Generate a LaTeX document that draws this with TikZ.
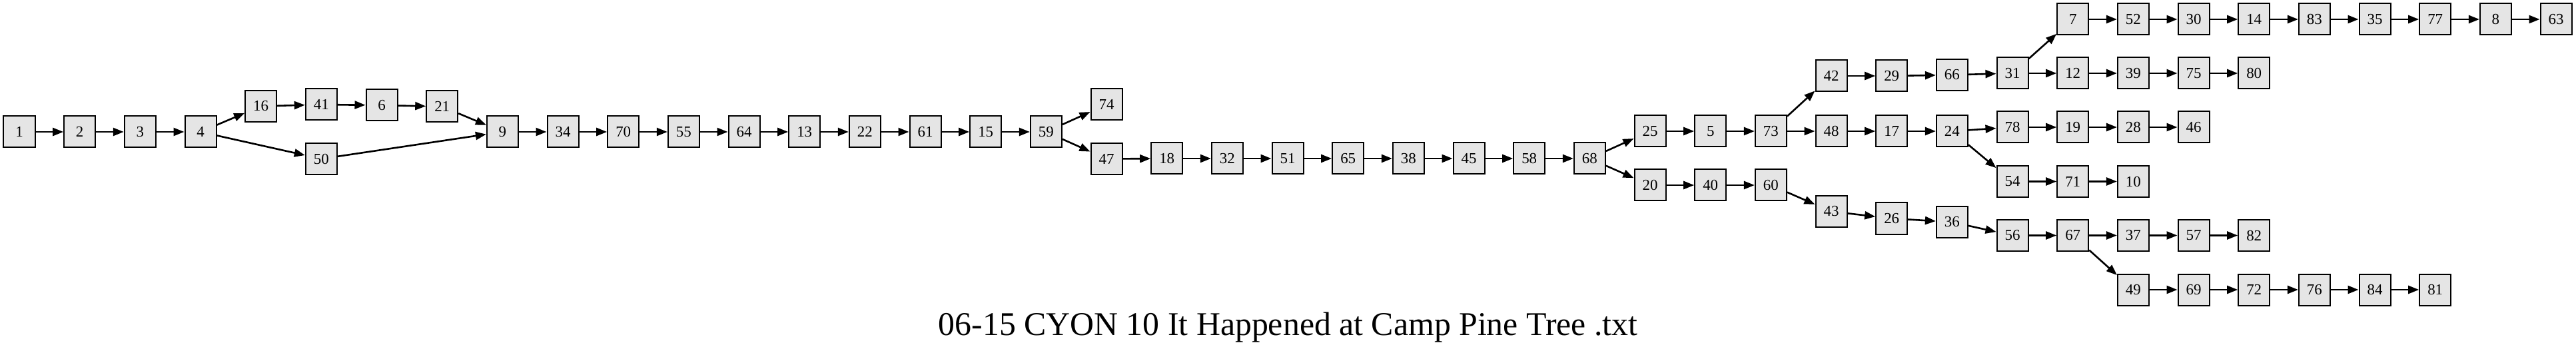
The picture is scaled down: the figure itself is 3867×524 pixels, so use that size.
\documentclass[tikz,border=0pt]{standalone}
\usepackage{fontspec}
\setmainfont{Liberation Serif}
\usetikzlibrary{arrows.meta}

\tikzset{
  state/.style={draw=black, line width=2bp, fill=black!10, minimum size=47bp,
    inner sep=0pt, font=\fontsize{23}{23}\selectfont},
  edge/.style={line width=2.6bp, -{Triangle[length=16bp,width=12bp]}}
}

\begin{document}
\begin{tikzpicture}[x=1bp,y=-1bp]
    \useasboundingbox (0,0) rectangle (3867,524);
    % Nodes %
    \node[state] (n1) at (29,198) {1};
    \node[state] (n2) at (119.7,198) {2};
    \node[state] (n3) at (210.3,198) {3};
    \node[state] (n4) at (301,198) {4};
    \node[state] (n16) at (391.7,159.5) {16};
    \node[state] (n41) at (482.3,157) {41};
    \node[state] (n6) at (573,158) {6};
    \node[state] (n21) at (663.7,160) {21};
    \node[state] (n50) at (482.3,238.5) {50};
    \node[state] (n9) at (754.4,198) {9};
    \node[state] (n34) at (845,198) {34};
    \node[state] (n70) at (935.7,198) {70};
    \node[state] (n55) at (1026.4,198) {55};
    \node[state] (n64) at (1117,198) {64};
    \node[state] (n13) at (1207.7,198) {13};
    \node[state] (n22) at (1298.4,198) {22};
    \node[state] (n61) at (1389,198) {61};
    \node[state] (n15) at (1479.7,198) {15};
    \node[state] (n59) at (1570.4,198) {59};
    \node[state] (n74) at (1661,157) {74};
    \node[state] (n47) at (1661,238.5) {47};
    \node[state] (n18) at (1751.7,238) {18};
    \node[state] (n32) at (1842.4,238) {32};
    \node[state] (n51) at (1933,238) {51};
    \node[state] (n65) at (2023.7,238) {65};
    \node[state] (n38) at (2114.4,238) {38};
    \node[state] (n45) at (2205,238) {45};
    \node[state] (n58) at (2295.7,238) {58};
    \node[state] (n68) at (2386.4,238) {68};
    \node[state] (n25) at (2477,197) {25};
    \node[state] (n5) at (2567.7,197) {5};
    \node[state] (n73) at (2658.4,197) {73};
    \node[state] (n48) at (2749,197) {48};
    \node[state] (n17) at (2839.7,197) {17};
    \node[state] (n24) at (2930.4,197) {24};
    \node[state] (n42) at (2749,114) {42};
    \node[state] (n29) at (2839.7,114) {29};
    \node[state] (n66) at (2930.4,112.5) {66};
    \node[state] (n31) at (3021,110) {31};
    \node[state] (n7) at (3111.7,29) {7};
    \node[state] (n52) at (3202.4,29) {52};
    \node[state] (n30) at (3293,29) {30};
    \node[state] (n14) at (3383.7,29) {14};
    \node[state] (n83) at (3474.4,29) {83};
    \node[state] (n35) at (3565,29) {35};
    \node[state] (n77) at (3655.7,29) {77};
    \node[state] (n8) at (3746.4,29) {8};
    \node[state] (n63) at (3837,29) {63};
    \node[state] (n12) at (3111.7,110) {12};
    \node[state] (n39) at (3202.4,110) {39};
    \node[state] (n75) at (3293,110) {75};
    \node[state] (n80) at (3383.7,110) {80};
    \node[state] (n78) at (3021,191) {78};
    \node[state] (n19) at (3111.7,191) {19};
    \node[state] (n28) at (3202.4,191) {28};
    \node[state] (n46) at (3293,191) {46};
    \node[state] (n54) at (3021,272.5) {54};
    \node[state] (n71) at (3111.7,272.5) {71};
    \node[state] (n10) at (3202.4,272.5) {10};
    \node[state] (n20) at (2477,278) {20};
    \node[state] (n40) at (2567.7,278) {40};
    \node[state] (n60) at (2658.4,278) {60};
    \node[state] (n43) at (2749,317.5) {43};
    \node[state] (n26) at (2839.7,328) {26};
    \node[state] (n36) at (2930.4,333.5) {36};
    \node[state] (n56) at (3021,353.5) {56};
    \node[state] (n67) at (3111.7,353.5) {67};
    \node[state] (n37) at (3202.4,353.5) {37};
    \node[state] (n57) at (3293,353.5) {57};
    \node[state] (n82) at (3383.7,353.5) {82};
    \node[state] (n49) at (3202.4,435) {49};
    \node[state] (n69) at (3293,435) {69};
    \node[state] (n72) at (3383.7,435) {72};
    \node[state] (n76) at (3474.4,435) {76};
    \node[state] (n84) at (3565,435) {84};
    \node[state] (n81) at (3655.7,435) {81};

    % Edges %
    \path[edge] (n1) edge (n2) (n2) edge (n3) (n3) edge (n4)
        (n4) edge (n16) (n4) edge (n50)
        (n16) edge (n41) (n41) edge (n6) (n6) edge (n21) (n21) edge (n9) (n50) edge (n9)
        (n9) edge (n34) (n34) edge (n70) (n70) edge (n55) (n55) edge (n64) (n64) edge (n13)
        (n13) edge (n22) (n22) edge (n61) (n61) edge (n15) (n15) edge (n59)
        (n59) edge (n74) (n59) edge (n47)
        (n47) edge (n18) (n18) edge (n32) (n32) edge (n51) (n51) edge (n65) (n65) edge (n38)
        (n38) edge (n45) (n45) edge (n58) (n58) edge (n68)
        (n68) edge (n25) (n68) edge (n20)
        (n25) edge (n5) (n5) edge (n73) (n73) edge (n42) (n73) edge (n48)
        (n42) edge (n29) (n29) edge (n66) (n66) edge (n31) (n31) edge (n7) (n31) edge (n12)
        (n7) edge (n52) (n52) edge (n30) (n30) edge (n14) (n14) edge (n83) (n83) edge (n35)
        (n35) edge (n77) (n77) edge (n8) (n8) edge (n63)
        (n12) edge (n39) (n39) edge (n75) (n75) edge (n80)
        (n48) edge (n17) (n17) edge (n24) (n24) edge (n78) (n24) edge (n54)
        (n78) edge (n19) (n19) edge (n28) (n28) edge (n46)
        (n54) edge (n71) (n71) edge (n10)
        (n20) edge (n40) (n40) edge (n60) (n60) edge (n43) (n43) edge (n26) (n26) edge (n36)
        (n36) edge (n56) (n56) edge (n67)
        (n67) edge (n37) (n37) edge (n57) (n57) edge (n82)
        (n67) edge (n49) (n49) edge (n69) (n69) edge (n72) (n72) edge (n76) (n76) edge (n84)
        (n84) edge (n81);

    % Title %
    \node[anchor=base, font=\fontsize{50}{50}\selectfont] (title) at (1933.5,503) {06-15 CYON 10 It Happened at Camp Pine Tree .txt};
\end{tikzpicture}
\end{document}
